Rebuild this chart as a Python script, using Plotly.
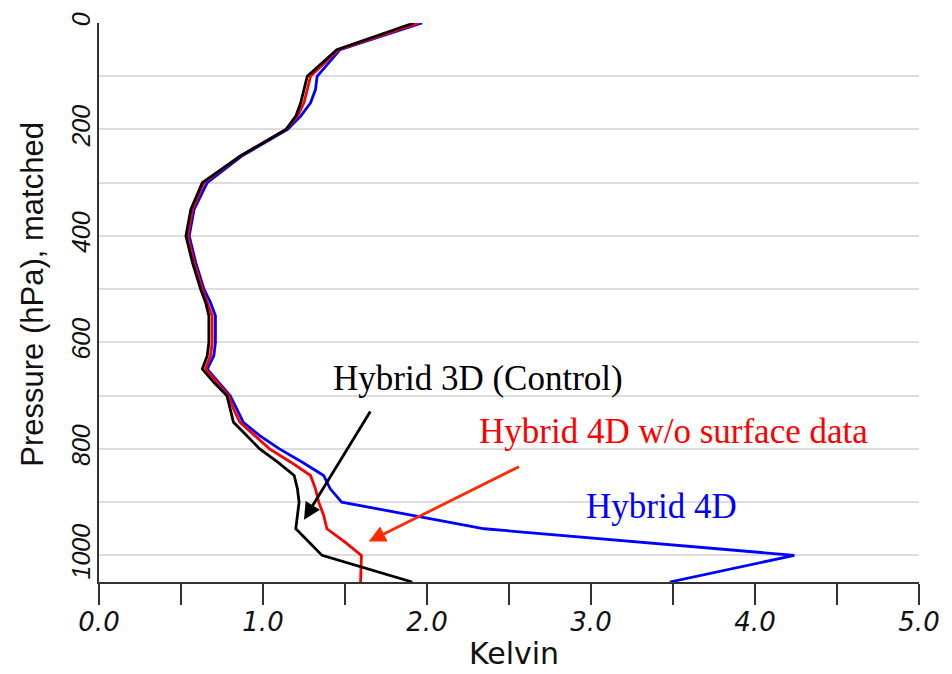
import plotly.graph_objects as go

# Pressure levels (hPa)
pressure = [0, 50, 100, 125, 150, 175, 200, 250, 300, 350, 400, 450, 500, 525, 550,
            575, 600, 625, 650, 675, 700, 725, 750, 775, 800, 825, 850, 875, 900,
            925, 950, 975, 1000, 1050]

hybrid3d_control = [1.92, 1.45, 1.27, 1.25, 1.23, 1.20, 1.14, 0.86, 0.63, 0.56, 0.53, 0.57,
                    0.62, 0.65, 0.67, 0.67, 0.67, 0.66, 0.63, 0.70, 0.78, 0.80, 0.82, 0.90,
                    0.98, 1.09, 1.19, 1.21, 1.22, 1.21, 1.20, 1.28, 1.36, 1.91]

hybrid4d_nosfc = [1.95, 1.46, 1.29, 1.27, 1.25, 1.21, 1.14, 0.86, 0.64, 0.57, 0.54, 0.58,
                  0.63, 0.66, 0.69, 0.69, 0.69, 0.68, 0.65, 0.72, 0.79, 0.82, 0.86, 0.95,
                  1.04, 1.17, 1.29, 1.32, 1.34, 1.37, 1.39, 1.50, 1.60, 1.595]

pressure_4d = [0, 50, 100, 125, 150, 175, 200, 250, 300, 350, 400, 450, 500, 525, 550,
               575, 600, 625, 650, 675, 700, 725, 750, 775, 800, 825, 850, 875, 900,
               950, 1000, 1050]
hybrid4d = [1.97, 1.47, 1.33, 1.32, 1.29, 1.23, 1.15, 0.87, 0.66, 0.58, 0.55, 0.59,
            0.64, 0.68, 0.71, 0.71, 0.71, 0.70, 0.66, 0.73, 0.80, 0.84, 0.88, 0.98,
            1.10, 1.24, 1.37, 1.41, 1.48, 2.35, 4.24, 3.48]

x_ticks = [0, 1, 2, 3, 4, 5]
y_ticks = [0, 200, 400, 600, 800, 1000]

fig = go.Figure()
fig.add_trace(go.Scatter(x=hybrid4d, y=pressure_4d, mode="lines",
                         line=dict(color="#0000ff", width=2.8), name="Hybrid 4D"))
fig.add_trace(go.Scatter(x=hybrid4d_nosfc, y=pressure, mode="lines",
                         line=dict(color="#ff0000", width=2.8), name="Hybrid 4D w/o surface data"))
fig.add_trace(go.Scatter(x=hybrid3d_control, y=pressure, mode="lines",
                         line=dict(color="#000000", width=2.8), name="Hybrid 3D (Control)"))

serif = "Liberation Serif"
ann = [
    # labels
    dict(x=2.31, y=667, text="Hybrid 3D (Control)", showarrow=False,
         font=dict(family=serif, size=35, color="#000000")),
    dict(x=3.50, y=768, text="Hybrid 4D w/o surface data", showarrow=False,
         font=dict(family=serif, size=35, color="#ff0000")),
    dict(x=3.43, y=908, text="Hybrid 4D", showarrow=False,
         font=dict(family=serif, size=35, color="#0000ff")),
    # arrows
    dict(x=1.25, y=933, ax=1.66, ay=727, axref="x", ayref="y", text="",
         showarrow=True, arrowhead=2, arrowsize=1.2, arrowwidth=2.8, arrowcolor="#000000",
         standoff=0),
    dict(x=1.645, y=974, ax=2.57, ay=832, axref="x", ayref="y", text="",
         showarrow=True, arrowhead=2, arrowsize=1.2, arrowwidth=2.8, arrowcolor="#ff2a00",
         standoff=0),
    # axis titles
    dict(xref="paper", yref="paper", x=-0.081, y=0.515, text="Pressure (hPa), matched",
         textangle=-90, showarrow=False, xanchor="center", yanchor="middle",
         font=dict(family="Liberation Sans", size=31, color="#111111")),
    dict(xref="paper", yref="paper", x=0.506, y=-0.128, text="Kelvin",
         showarrow=False, xanchor="center", yanchor="middle",
         font=dict(family="DejaVu Sans", size=30, color="#111111")),
]

fig.update_layout(
    width=952, height=674,
    margin=dict(l=99, r=29, t=21, b=92),
    paper_bgcolor="white", plot_bgcolor="white",
    showlegend=False,
    annotations=ann,
    xaxis=dict(range=[0, 5], tickvals=x_ticks, tickformat=".1f",
               showgrid=False, zeroline=False,
               showline=True, linecolor="#333333", linewidth=2,
               ticks="outside", ticklen=21, tickwidth=2, tickcolor="#333333",
               ticklabelstandoff=-5,
               minor=dict(dtick=0.5, ticks="outside", ticklen=21, tickwidth=2,
                          tickcolor="#333333", showgrid=False),
               tickfont=dict(family="DejaVu Sans", size=26, color="#111111", style="italic")),
    yaxis=dict(range=[1050, 0], tickvals=y_ticks, tickangle=-90,
               showgrid=True, gridcolor="#dddddd", gridwidth=2, zeroline=False,
               showline=True, linecolor="#333333", linewidth=2,
               ticks="", ticklabelstandoff=-3,
               minor=dict(dtick=100, showgrid=True, gridcolor="#dddddd", gridwidth=2),
               tickfont=dict(family="Liberation Sans", size=25, color="#111111", style="italic")),
)

fig.write_html("out.html")
